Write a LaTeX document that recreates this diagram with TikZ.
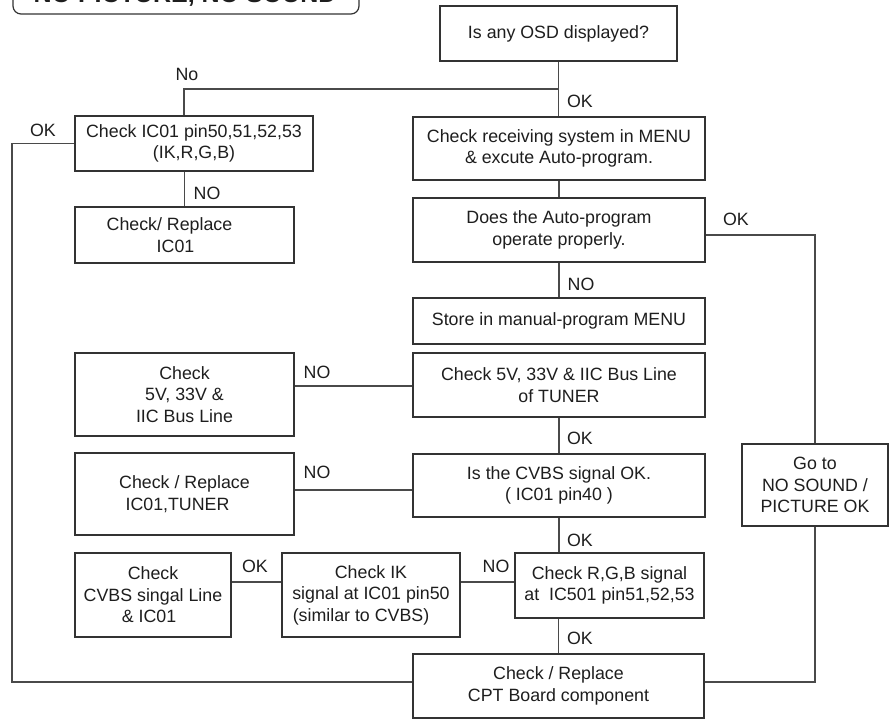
\documentclass[tikz,border=0pt]{standalone}
\usepackage{fontspec}
\setmainfont{Liberation Sans}
\definecolor{boxc}{HTML}{333333}
\definecolor{linec}{HTML}{4A4A4A}
\definecolor{txt}{HTML}{1E1E1E}
\begin{document}
\begin{tikzpicture}[x=1pt,y=-1pt,
  box/.style={draw=boxc, line width=1.2pt, align=center, inner sep=0pt, text=txt,
    font=\fontsize{17.8}{21.5}\selectfont},
  lab/.style={text=txt, inner sep=0pt, font=\fontsize{17.8}{21.5}\selectfont},
  conn/.style={draw=linec, line width=1.1pt}]
\useasboundingbox (0,0) rectangle (889,720);
\fill[white] (0,0) rectangle (889,720);
\clip (0,0) rectangle (889,720);

% title (cut off at top, as in the reference)
\draw[boxc, line width=1.2pt, rounded corners=8pt] (13,-40) rectangle (359,14);
\node[text=txt, inner sep=0pt, anchor=base, font=\bfseries\fontsize{25}{30}\selectfont] (title) at (185,2.5) {NO PICTURE, NO SOUND};

% right column
\node[box, minimum width=237pt, minimum height=55pt] (osd) at (558.5,33.5) {Is any OSD displayed?};
\node[box, minimum width=292pt, minimum height=63pt] (recv) at (559,148.5) {Check receiving system in MENU\\ \& excute Auto-program.};
\node[box, minimum width=292pt, minimum height=64pt] (auto) at (559,230) {Does the Auto-program\\operate properly.};
\node[box, minimum width=292pt, minimum height=46pt] (store) at (559,321) {Store in manual-program MENU};
\node[box, minimum width=292pt, minimum height=64pt] (tuner) at (559,385) {Check 5V, 33V \& IIC Bus Line\\of TUNER};
\node[box, minimum width=292pt, minimum height=63pt] (cvbs) at (559,485.5) {Is the CVBS signal OK.\\( IC01 pin40 )};
\node[box, minimum width=189pt, minimum height=65pt] (rgb) at (609.5,585.5) {Check R,G,B signal\\at\ \ IC501 pin51,52,53};
\node[box, minimum width=291pt, minimum height=64pt] (cpt) at (558.5,686) {Check / Replace\\CPT Board component};
\node[box, minimum width=146pt, minimum height=82pt] (goto) at (815,485) {Go to\\NO SOUND /\\PICTURE OK};

% left column
\node[box, minimum width=238pt, minimum height=55pt] (ic01) at (194,143.5) {Check IC01 pin50,51,52,53\\(IK,R,G,B)};
\node[box, minimum width=219pt, minimum height=56pt] (repl) at (184.5,235) {Check/ Replace\hspace*{30pt}\\IC01\hspace*{18pt}};
\node[box, minimum width=219pt, minimum height=83pt] (chk5v) at (184.5,394.5) {Check\\5V, 33V \&\\IIC Bus Line};
\node[box, minimum width=219pt, minimum height=82pt] (tunrepl) at (184.5,494) {Check / Replace\\IC01,TUNER\hspace*{14pt}};
\node[box, minimum width=156pt, minimum height=84pt] (cvbsline) at (153,595) {Check\\CVBS singal Line\\\& IC01\hspace*{8pt}};
\node[box, minimum width=178pt, minimum height=84pt] (ik) at (371,595) {Check IK\\signal at IC01 pin50\\(similar to CVBS)\hspace*{20pt}};

% helper coordinates
\coordinate (nob) at (184,89);
\coordinate (lft) at (12,682);
\coordinate (okr) at (815,235);
\coordinate (botr) at (815,682);
\coordinate (t5) at (0,386);
\coordinate (tr) at (0,490);
\coordinate (bl) at (0,582);

% connectors
\draw[conn] (osd.south) -- (osd.south |- recv.north);
\draw[conn] (nob -| osd.south) -- (nob) -- (nob |- ic01.north);
\draw[conn] (repl.north |- ic01.south) -- (repl.north);
\draw[conn] (ic01.west) -| (lft) -- (lft -| cpt.west);
\draw[conn] (recv.south) -- (recv.south |- auto.north);
\draw[conn] (auto.south) -- (store.north);
\draw[conn] (okr -| auto.east) -- (okr) -- (goto.north);
\draw[conn] (tuner.south) -- (cvbs.north);
\draw[conn] (cvbs.south) -- (cvbs.south |- rgb.north);
\draw[conn] (cpt.north |- rgb.south) -- (cpt.north);
\draw[conn] (t5 -| chk5v.east) -- (t5 -| tuner.west);
\draw[conn] (tr -| tunrepl.east) -- (tr -| cvbs.west);
\draw[conn] (bl -| cvbsline.east) -- (bl -| ik.west);
\draw[conn] (bl -| ik.east) -- (bl -| rgb.west);
\draw[conn] (goto.south) -- (botr) -- (botr -| cpt.east);

% labels
\node[lab] (lno) at (187,74) {No};
\node[lab] (lok1) at (580,101) {OK};
\node[lab] (lok2) at (43,130) {OK};
\node[lab] (lno2) at (207,193) {NO};
\node[lab] (lok3) at (736,219) {OK};
\node[lab] (lno3) at (581,284) {NO};
\node[lab] (lno4) at (317,372) {NO};
\node[lab] (lno5) at (317,472) {NO};
\node[lab] (lok4) at (580,438) {OK};
\node[lab] (lok5) at (580,540) {OK};
\node[lab] (lok6) at (255,566) {OK};
\node[lab] (lno6) at (496,566) {NO};
\node[lab] (lok7) at (580,638) {OK};
\end{tikzpicture}
\end{document}
